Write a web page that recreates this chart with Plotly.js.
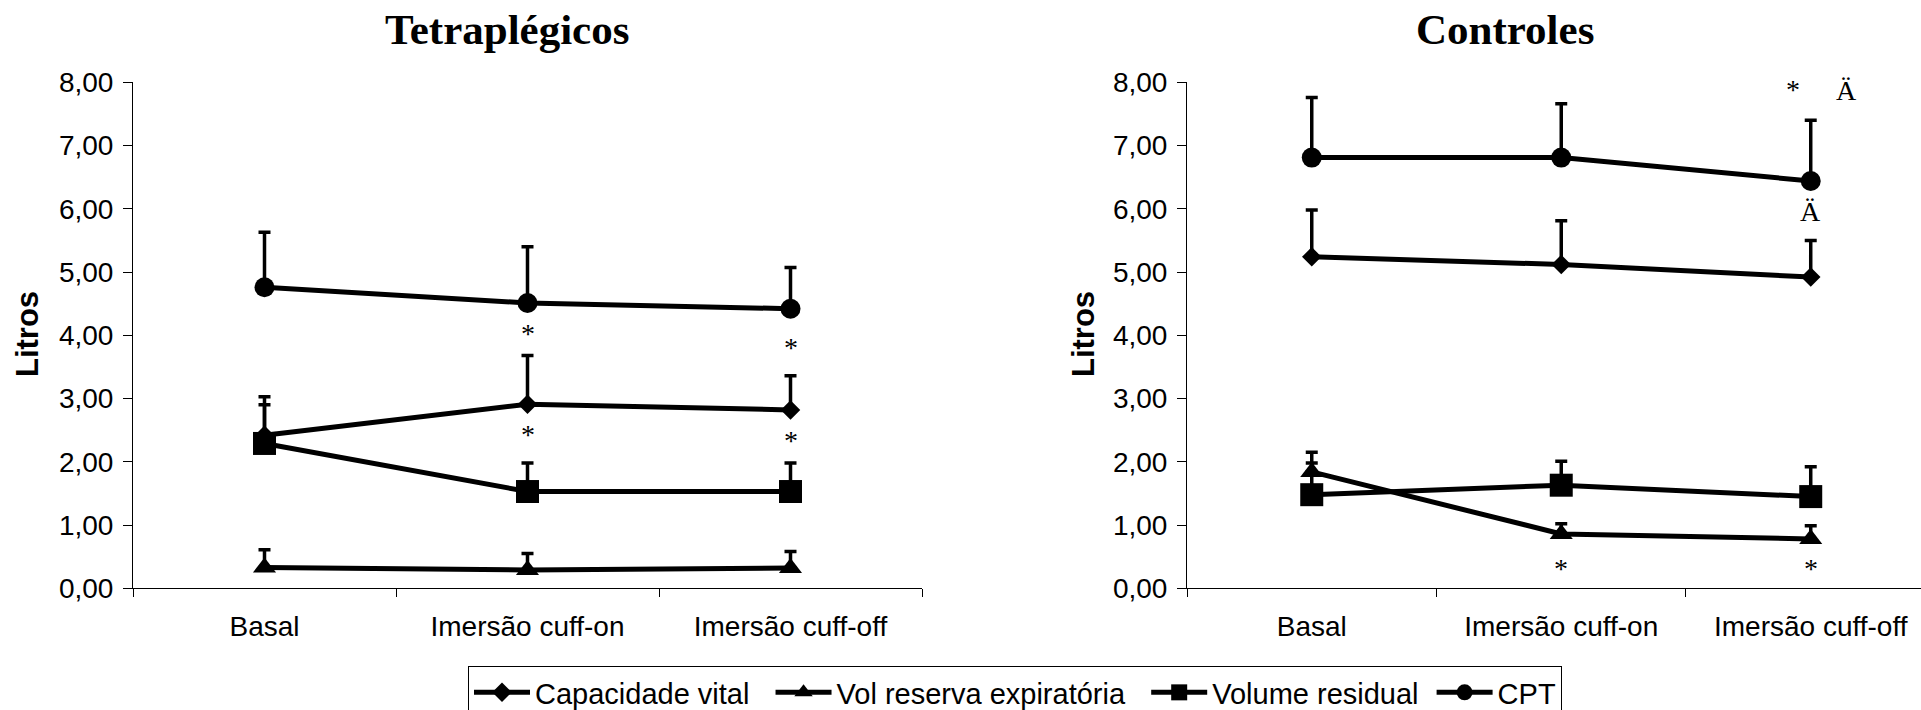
<!DOCTYPE html>
<html>
<head>
<meta charset="utf-8">
<script src="https://cdn.plot.ly/plotly-3.0.1.min.js"></script>
<style>html,body{margin:0;padding:0;background:#fff;}#chart{width:1921px;height:710px;}</style>
</head>
<body>
<div id="chart"></div>
<script>
// ---- data ----
var categories = ['Basal', 'Imersão cuff-on', 'Imersão cuff-off'];
var seriesNames = ['Capacidade vital', 'Vol reserva expiratória', 'Volume residual', 'CPT'];
var seriesSymbols = ['diamond', 'triangle-up', 'square', 'circle'];

// Tetraplégicos: means and upper error (SD)
var tetraCV = [2.42, 2.91, 2.82];
var tetraCVsd = [0.61, 0.77, 0.54];
var tetraVRE = [0.33, 0.29, 0.32];
var tetraVREsd = [0.28, 0.26, 0.26];
var tetraVR = [2.29, 1.53, 1.53];
var tetraVRsd = [0.61, 0.45, 0.45];
var tetraCPT = [4.76, 4.51, 4.42];
var tetraCPTsd = [0.87, 0.89, 0.65];

// Controles
var ctrlCV = [5.24, 5.12, 4.92];
var ctrlCVsd = [0.74, 0.69, 0.58];
var ctrlVRE = [1.84, 0.86, 0.78];
var ctrlVREsd = [0.31, 0.16, 0.21];
var ctrlVR = [1.48, 1.63, 1.45];
var ctrlVRsd = [0.50, 0.38, 0.47];
var ctrlCPT = [6.81, 6.81, 6.44];
var ctrlCPTsd = [0.95, 0.85, 0.96];

// significance marks: [category index, value, text]
var tetraMarks = [[1, 4.03, '*'], [2, 3.80, '*'], [1, 2.43, '*'], [2, 2.33, '*']];
var ctrlMarks = [[1, 0.32, '*'], [2, 0.32, '*'], [1.93, 7.89, '*'], [2.144, 7.87, 'Ä'], [2, 5.95, 'Ä']];

var panelTitles = ['Tetraplégicos', 'Controles'];
var yTitle = 'Litros';

// ---- build ----
var SANS = 'Liberation Sans, Arial, sans-serif';
var SERIF = 'Liberation Serif, Times New Roman, serif';
var markerSizes = {'diamond': 15, 'triangle-up': 20, 'square': 23, 'circle': 20};
var NB = '\u00a0';
var legendPad = [NB + NB, NB + NB, NB, ''];   // spacing between legend entries

function mk(vals, sds, idx, xa, ya, showleg) {
  var sym = seriesSymbols[idx];
  return {
    type: 'scatter', mode: 'lines+markers',
    x: categories, y: vals, name: seriesNames[idx] + legendPad[idx],
    xaxis: xa, yaxis: ya, showlegend: showleg,
    line: {color: '#000', width: 5},
    marker: {symbol: sym, size: markerSizes[sym], color: '#000'},
    error_y: {type: 'data', symmetric: false, array: sds, arrayminus: sds.map(function(){return 0;}),
              color: '#000', thickness: 3.5, width: 6},
    hoverinfo: 'x+y+name'
  };
}

var traces = [
  mk(tetraCV, tetraCVsd, 0, 'x', 'y', true),
  mk(tetraVRE, tetraVREsd, 1, 'x', 'y', true),
  mk(tetraVR, tetraVRsd, 2, 'x', 'y', true),
  mk(tetraCPT, tetraCPTsd, 3, 'x', 'y', true),
  mk(ctrlCV, ctrlCVsd, 0, 'x2', 'y2', false),
  mk(ctrlVRE, ctrlVREsd, 1, 'x2', 'y2', false),
  mk(ctrlVR, ctrlVRsd, 2, 'x2', 'y2', false),
  mk(ctrlCPT, ctrlCPTsd, 3, 'x2', 'y2', false)
];

var W = 1921, H = 710;
function fx(px) { return px / W; }
function fy(px) { return 1 - px / H; }

var yDomain = [fy(588.3), fy(82.3)];

function xAxis(dom, rng, anchor) {
  return {
    domain: dom, range: rng, anchor: anchor, type: 'category',
    showline: true, linecolor: '#000', linewidth: 1,
    ticks: 'outside', ticklen: 8, tickcolor: '#000', tickwidth: 1, tickson: 'boundaries',
    showgrid: false, zeroline: false, fixedrange: true,
    tickfont: {family: SANS, size: 28, color: '#000'}, ticklabelstandoff: 13
  };
}
function yAxis(anchor) {
  return {
    domain: yDomain, range: [0, 8], dtick: 1, tick0: 0, anchor: anchor,
    tickformat: '.2f',
    showline: true, linecolor: '#000', linewidth: 1,
    ticks: 'outside', ticklen: 9, tickcolor: '#000', tickwidth: 1,
    showgrid: false, zeroline: false, fixedrange: true,
    tickfont: {family: SANS, size: 28, color: '#000'}, ticklabelstandoff: 4
  };
}

var annotations = [];
annotations.push({xref: 'paper', yref: 'paper', x: fx(507), y: fy(30), text: panelTitles[0], showarrow: false,
  xanchor: 'center', yanchor: 'middle', font: {family: SERIF, size: 43, color: '#000', weight: 'bold'}});
annotations.push({xref: 'paper', yref: 'paper', x: fx(1505), y: fy(30), text: panelTitles[1], showarrow: false,
  xanchor: 'center', yanchor: 'middle', font: {family: SERIF, size: 43, color: '#000', weight: 'bold'}});
[27, 1083].forEach(function(px) {
  annotations.push({xref: 'paper', yref: 'paper', x: fx(px), y: fy(334), text: yTitle, showarrow: false,
    textangle: -90, xanchor: 'center', yanchor: 'middle', font: {family: SANS, size: 31, color: '#000', weight: 'bold'}});
});
tetraMarks.forEach(function(m) {
  annotations.push({xref: 'x', yref: 'y', x: m[0], y: m[1], text: m[2], showarrow: false,
    xanchor: 'center', yanchor: 'middle', font: {family: SERIF, size: 28, color: '#000'}});
});
ctrlMarks.forEach(function(m) {
  annotations.push({xref: 'x2', yref: 'y2', x: m[0], y: m[1], text: m[2], showarrow: false,
    xanchor: 'center', yanchor: 'middle', font: {family: SERIF, size: 28, color: '#000'}});
});

var layout = {
  width: W, height: H,
  margin: {l: 0, r: 0, t: 0, b: 0, pad: 0, autoexpand: false},
  paper_bgcolor: '#fff', plot_bgcolor: '#fff',
  separators: ',.',
  showlegend: true,
  legend: {
    orientation: 'h', x: fx(468), y: fy(666), xanchor: 'left', yanchor: 'top',
    bordercolor: '#000', borderwidth: 1, bgcolor: '#fff',
    font: {family: SANS, size: 29, color: '#000'}, itemwidth: 56
  },
  xaxis: xAxis([fx(133), fx(922)], [-0.5, 2.5], 'y'),
  yaxis: yAxis('x'),
  xaxis2: xAxis([fx(1187), 1], [-0.5, 2.442], 'y2'),
  yaxis2: yAxis('x2'),
  annotations: annotations
};

Plotly.newPlot('chart', traces, layout, {displayModeBar: false, staticPlot: true});
</script>
</body>
</html>
